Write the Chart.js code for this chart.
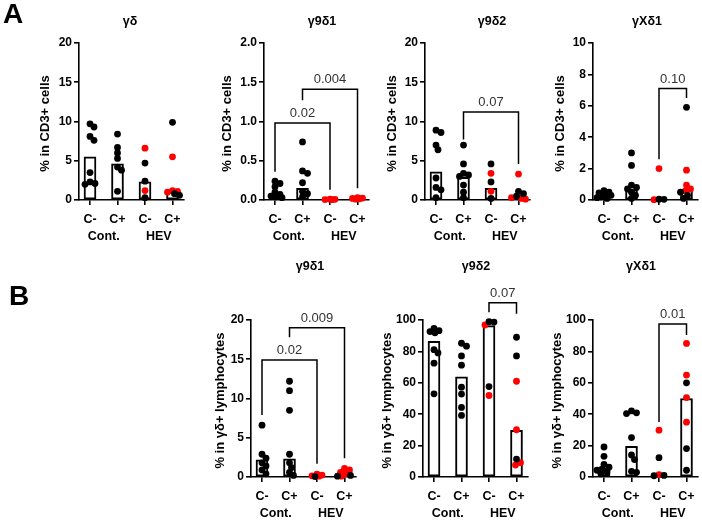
<!DOCTYPE html>
<html><head><meta charset="utf-8">
<script src="https://cdn.jsdelivr.net/npm/chart.js@4.4.1/dist/chart.umd.min.js"></script>
<style>
html,body{margin:0;padding:0;background:#fff;}
#wrap{position:relative;width:702px;height:520px;overflow:hidden;background:#fff;}
#wrap canvas{position:absolute;left:0;top:0;}
</style></head><body><div id="wrap"></div>
<script>
// ---------- data ----------
const categories = ['C-', 'C+', 'C-', 'C+'];
const groupNames = ['Cont.', 'HEV'];
const panelTitles = ['γδ', 'γ9δ1', 'γ9δ2', 'γXδ1', 'γ9δ1', 'γ9δ2', 'γXδ1'];
const yAxisTitles = ['% in CD3+ cells', '% in CD3+ cells', '% in CD3+ cells', '% in CD3+ cells',
                     '% in γδ+ lymphocytes', '% in γδ+ lymphocytes', '% in γδ+ lymphocytes'];
const yMaxima = [20, 2, 20, 10, 20, 100, 100];
const ySteps = [5, 0.5, 5, 2, 5, 20, 20];
const yDecimals = [0, 1, 0, 0, 0, 0, 0];

// A: % in CD3+ cells
const a1Bars = [5.5, 4.6, 2.3, 1.0];
const a1Black = [[9.7, 9.3, 8.1, 7.6, 3.5, 2.3, 2.1, 2.0], [8.4, 6.7, 6.0, 5.3, 4.2, 3.8, 1.1], [4.7, 2.4, 0.3], [9.9, 0.8, 0.6]];
const a1Red = [[], [], [6.6, 1.2], [5.5, 1.2, 1.1, 1.0]];
const a1Brackets = [];

const a2Bars = [0.06, 0.15, 0.005, 0.01];
const a2Black = [[0.24, 0.21, 0.17, 0.10, 0.07, 0.05, 0.04, 0.03], [0.74, 0.37, 0.34, 0.22, 0.11, 0.08, 0.04], [], []];
const a2Red = [[], [], [0.01, 0.008, 0.005, 0.004], [0.03, 0.025, 0.02, 0.015, 0.01]];
const a2Brackets = [[0, 2, 0.98, 0.36, 0.13, '0.02'], [1, 3, 1.41, 1.27, 0.15, '0.004']];

const a3Bars = [3.6, 2.9, 1.5, 0.6];
const a3Black = [[8.9, 8.6, 7.0, 6.4, 2.8, 1.6, 1.3, 0.3], [7.0, 4.6, 3.4, 3.2, 3.0, 1.9, 1.0, 0.3], [4.6, 2.3, 0.2], [1.1, 0.8, 0.5]];
const a3Red = [[], [], [3.4, 1.1], [3.3, 0.3, 0.2, 0.1]];
const a3Brackets = [[1, 3, 11.2, 7.7, 4.6, '0.07']];

const a4Bars = [0.3, 0.65, 0.02, 0.65];
const a4Black = [[0.6, 0.5, 0.45, 0.35, 0.3, 0.2, 0.15, 0.1], [3.0, 2.2, 0.95, 0.8, 0.7, 0.5, 0.3, 0.1], [0.05, 0.04], [5.9, 0.5, 0.3, 0.1]];
const a4Red = [[], [], [2.0, 0.02], [1.9, 0.95, 0.7, 0.6]];
const a4Brackets = [[2, 3, 7.1, 2.6, 6.5, '0.10']];

// B: % in γδ+ lymphocytes
const b1Bars = [2.2, 2.3, 0.1, 0.3];
const b1Black = [[6.6, 2.9, 2.4, 1.8, 1.4, 0.9, 0.4], [12.2, 11.0, 8.5, 2.9, 1.8, 1.2, 0.6, 0.2], [0.05], [0.2, 0.1]];
const b1Red = [[], [], [0.35, 0.25, 0.15, 0.1], [1.1, 0.9, 0.6, 0.4, 0.1]];
const b1Brackets = [[0, 2, 14.9, 7.9, 1.7, '0.02'], [1, 3, 19.0, 17.8, 2.4, '0.009']];

const b2Bars = [86.4, 63.8, 96.4, 29.7];
const b2Black = [[94.7, 93.2, 92.6, 91.8, 81.1, 79.0, 72.5, 53.0], [85.2, 83.3, 77.1, 71.2, 57.2, 52.8, 44.3, 39.2], [98.9, 98.7, 57.6], [89.0, 77.1, 11.4]];
const b2Red = [[], [], [96.8, 51.9], [61.0, 30.1, 9.1, 7.6]];
const b2Brackets = [[2, 3, 111, 105, 104, '0.07']];

const b3Bars = [5.5, 19.6, 1.0, 50.0];
const b3Black = [[19.1, 13.2, 8.1, 6.2, 5.0, 4.3, 3.2, 2.0], [42.1, 40.9, 40.4, 25.1, 14.0, 11.1, 3.6, 3.0], [12.3, 1.0, 0.8], [60.0, 18.1, 4.3]];
const b3Red = [[], [], [29.8, 1.5], [85.1, 64.9, 50.6, 34.9]];
const b3Brackets = [[2, 3, 97.5, 35, 90.4, '0.01']];

// ---------- layout (page coordinates of each plot area) ----------
const FONT = "'Liberation Sans', Arial, Helvetica, sans-serif";
const layouts = [
  {L: 79,  R: 183.5, T: 43,  B: 200, tx: 130, ty: 22,  yt: 45,  letter: 'A', lx: 3, ly: 15},
  {L: 264, R: 368.5, T: 43,  B: 200, tx: 322, ty: 22,  yt: 227},
  {L: 425, R: 529.5, T: 43,  B: 200, tx: 492, ty: 22,  yt: 392},
  {L: 593, R: 697.5, T: 43,  B: 200, tx: 647, ty: 22,  yt: 560},
  {L: 251, R: 355.5, T: 320, B: 477, tx: 310, ty: 267, yt: 220, letter: 'B', lx: 9, ly: 297},
  {L: 423, R: 527.5, T: 320, B: 477, tx: 476, ty: 267, yt: 387},
  {L: 593, R: 697.5, T: 320, B: 477, tx: 641, ty: 267, yt: 557}
];
const panelData = [
  [a1Bars, a1Black, a1Red, a1Brackets],
  [a2Bars, a2Black, a2Red, a2Brackets],
  [a3Bars, a3Black, a3Red, a3Brackets],
  [a4Bars, a4Black, a4Red, a4Brackets],
  [b1Bars, b1Black, b1Red, b1Brackets],
  [b2Bars, b2Black, b2Red, b2Brackets],
  [b3Bars, b3Black, b3Red, b3Brackets]
];
const YW = 40, XH = 6, XMIN = -0.4, XMAX = 3.4;

// deterministic beeswarm spreading of overlapping dots (pixel-based)
function swarm(black, red, ymax, plotH, unitPx) {
  const out = {black: [], red: []};
  const cands = [0];
  for (let k = 1; k <= 7; k++) cands.push(k, -k);
  const minD = 5;
  for (let g = 0; g < 4; g++) {
    const pts = [];
    black[g].forEach(v => pts.push({v, c: 'black'}));
    red[g].forEach(v => pts.push({v, c: 'red'}));
    pts.sort((a, b) => b.v - a.v);
    const placed = [];
    pts.forEach(p => {
      const yp = p.v / ymax * plotH;
      let best = 0, bestD = -1;
      for (const off of cands) {
        let md = Infinity;
        for (const q of placed) md = Math.min(md, Math.hypot(off - q.off, yp - q.yp));
        if (md >= minD) { best = off; break; }
        if (md > bestD) { bestD = md; best = off; }
      }
      placed.push({off: best, yp});
      out[p.c].push({x: g + best / unitPx, y: p.v});
    });
  }
  return out;
}

const wrap = document.getElementById('wrap');

layouts.forEach((lay, i) => {
  const [bars, black, red, brackets] = panelData[i];
  const cv = document.createElement('canvas');
  cv.width = 702; cv.height = 520;
  cv.style.width = '702px'; cv.style.height = '520px';
  wrap.appendChild(cv);
  const unitPx = (lay.R - lay.L) / (XMAX - XMIN);
  const sw = swarm(black, red, yMaxima[i], lay.B - lay.T, unitPx);

  const textPlugin = {
    id: 'panelText' + i,
    afterDraw(chart) {
      const ctx = chart.ctx;
      const xs = chart.scales.x, ys = chart.scales.y;
      const ca = chart.chartArea;
      ctx.save();
      ctx.fillStyle = '#000';
      // panel letter
      if (lay.letter) {
        ctx.font = 'bold 28px ' + FONT;
        ctx.textAlign = 'left'; ctx.textBaseline = 'middle';
        ctx.fillText(lay.letter, lay.lx, lay.ly);
      }
      // title
      ctx.font = 'bold 12.5px ' + FONT;
      ctx.textAlign = 'center'; ctx.textBaseline = 'middle';
      ctx.fillText(panelTitles[i], lay.tx, lay.ty);
      // y title
      ctx.save();
      ctx.translate(lay.yt, (ca.top + ca.bottom) / 2 + 2);
      ctx.rotate(-Math.PI / 2);
      ctx.font = 'bold 13px ' + FONT;
      ctx.fillText(yAxisTitles[i], 0, 0);
      ctx.restore();
      // category labels
      ctx.font = 'bold 12.5px ' + FONT;
      categories.forEach((c, k) => ctx.fillText(c, xs.getPixelForValue(k), ca.bottom + 20));
      groupNames.forEach((g, k) => {
        const xm = (xs.getPixelForValue(2 * k) + xs.getPixelForValue(2 * k + 1)) / 2;
        ctx.fillText(g, xm, ca.bottom + 37);
      });
      // significance brackets
      ctx.strokeStyle = '#000'; ctx.lineWidth = 1.5; ctx.lineJoin = 'miter';
      brackets.forEach(([a, b, top, lb, rb, label]) => {
        const x1 = xs.getPixelForValue(a), x2 = xs.getPixelForValue(b);
        const yt = ys.getPixelForValue(top);
        ctx.beginPath();
        ctx.moveTo(x1, ys.getPixelForValue(lb));
        ctx.lineTo(x1, yt);
        ctx.lineTo(x2, yt);
        ctx.lineTo(x2, ys.getPixelForValue(rb));
        ctx.stroke();
        ctx.fillStyle = '#333';
        ctx.font = '13px ' + FONT;
        ctx.textBaseline = 'alphabetic';
        ctx.fillText(label, (x1 + x2) / 2, yt - 6);
        ctx.fillStyle = '#000';
      });
      ctx.restore();
    }
  };

  new Chart(cv, {
    type: 'bar',
    data: {
      datasets: [
        {type: 'scatter', data: sw.black, pointRadius: 3.4, pointHoverRadius: 3.4, pointBackgroundColor: '#000', pointBorderWidth: 0, order: 0, clip: false},
        {type: 'scatter', data: sw.red, pointRadius: 3.4, pointHoverRadius: 3.4, pointBackgroundColor: '#ff0000', pointBorderWidth: 0, order: 0, clip: false},
        {type: 'bar', data: bars.map((v, k) => ({x: k, y: v})), backgroundColor: '#fff', borderColor: '#000', borderWidth: 2, borderSkipped: false, barThickness: 12, order: 2, clip: false}
      ]
    },
    options: {
      responsive: false, animation: false, devicePixelRatio: 1,
      events: [],
      layout: {padding: {left: lay.L - YW, right: 702 - lay.R, top: lay.T, bottom: 520 - lay.B - XH}},
      plugins: {legend: {display: false}, tooltip: {enabled: false}, title: {display: false}},
      scales: {
        x: {
          type: 'linear', min: XMIN, max: XMAX, offset: false,
          afterBuildTicks: s => { s.ticks = [0, 1, 2, 3].map(v => ({value: v})); },
          ticks: {display: false},
          grid: {display: true, offset: false, drawOnChartArea: false, drawTicks: true, tickLength: 5, color: '#000', lineWidth: 1.6},
          border: {display: true, color: '#000', width: 1.6},
          afterFit: s => { s.height = XH; }
        },
        y: {
          type: 'linear', min: 0, max: yMaxima[i],
          ticks: {stepSize: ySteps[i], color: '#000', padding: 2, font: {family: FONT, weight: 'bold', size: 12},
                  callback: v => Number(v).toFixed(yDecimals[i])},
          grid: {display: true, drawOnChartArea: false, drawTicks: true, tickLength: 5, color: '#000', lineWidth: 1.6},
          border: {display: true, color: '#000', width: 1.6},
          afterFit: s => { s.width = YW; }
        }
      }
    },
    plugins: [textPlugin]
  });
});
</script>
</body></html>
